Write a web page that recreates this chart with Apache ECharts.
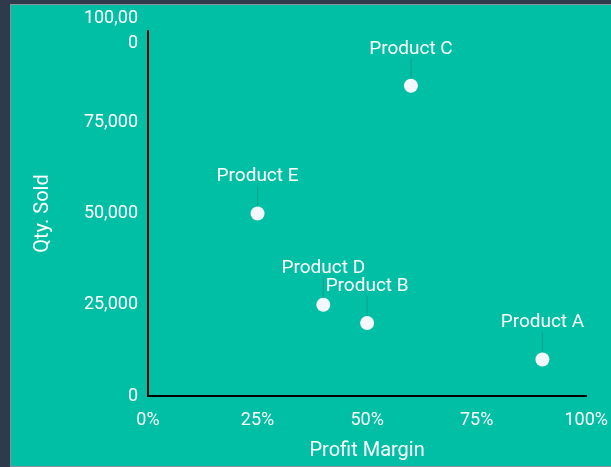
<!DOCTYPE html>
<html><head><meta charset="utf-8">
<script src="https://cdn.jsdelivr.net/npm/echarts@6/dist/echarts.min.js"></script>
<style>
html,body{margin:0;padding:0;background:#2f3b4c;width:611px;height:467px;overflow:hidden;}
#wrap{position:absolute;left:10px;top:4px;width:610px;height:461px;border:1px solid #8a9496;background:#00bfa5;}
#chart{position:absolute;left:0;top:0;width:600px;height:461px;}
</style></head>
<body><div id="wrap"><div id="chart"></div></div>
<script>
const products = ['Product A','Product B','Product C','Product D','Product E'];
const profitMargin = [0.90, 0.50, 0.60, 0.40, 0.25];
const qtySold = [10000, 20000, 85000, 25000, 50000];
const xTicks = [0, 0.25, 0.5, 0.75, 1];
const yTicks = [0, 25000, 50000, 75000, 100000];

const chart = echarts.init(document.getElementById('chart'));
const font = 'Roboto, "Noto Sans", sans-serif';
chart.setOption({
  backgroundColor: '#00bfa5',
  textStyle: {fontFamily: font},
  grid: {left: 137, right: 21, top: 26, bottom: 69},
  xAxis: {
    type: 'value', min: 0, max: 1, interval: 0.25,
    name: 'Profit Margin', nameLocation: 'middle', nameGap: 45,
    nameTextStyle: {color: '#ffffff', fontSize: 20, fontFamily: font},
    axisLine: {lineStyle: {color: '#000000', width: 2}},
    axisTick: {show: false},
    splitLine: {show: false},
    axisLabel: {color: '#ffffff', fontSize: 18, fontFamily: font, margin: 15,
      formatter: v => Math.round(v*100) + '%'}
  },
  yAxis: {
    type: 'value', min: 0, max: 100000, interval: 25000,
    name: 'Qty. Sold', nameLocation: 'middle', nameGap: 95, nameRotate: 90,
    nameTextStyle: {color: '#ffffff', fontSize: 20, fontFamily: font},
    axisLine: {show: true, lineStyle: {color: '#000000', width: 2}},
    axisTick: {show: false},
    splitLine: {show: false},
    axisLabel: {color: '#ffffff', fontSize: 18, fontFamily: font, margin: 10,
      width: 62, overflow: 'breakAll', lineHeight: 25,
      formatter: v => v.toLocaleString('en-US')}
  },
  series: [{
    type: 'scatter',
    symbolSize: 14,
    itemStyle: {color: '#f4f7fb', opacity: 1},
    data: products.map((p, i) => ({name: p, value: [profitMargin[i], qtySold[i]]})),
    label: {show: true, position: 'inside', formatter: '{b}', color: '#ffffff', fontSize: 19, fontFamily: font},
    labelLayout: {dy: -37},
    labelLine: {show: true, lineStyle: {color: '#12a08c', width: 1}},
    emphasis: {disabled: true}
  }]
});
</script></body></html>
